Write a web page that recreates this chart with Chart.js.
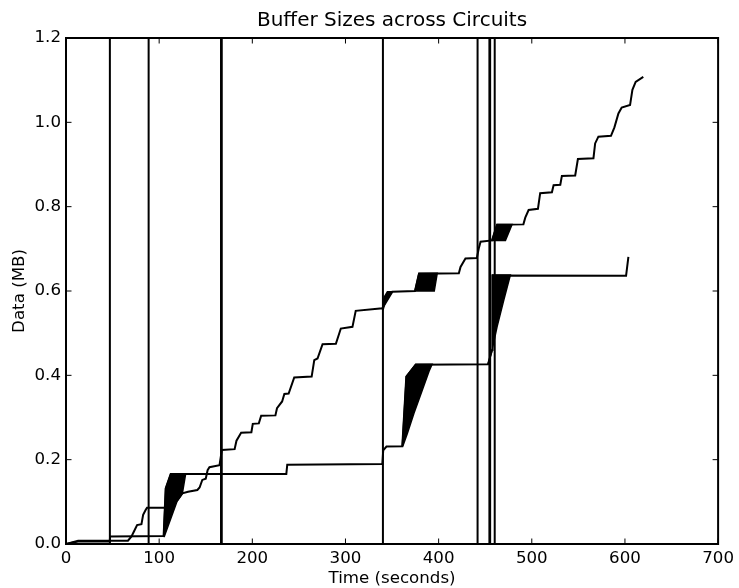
<!DOCTYPE html>
<html>
<head>
<meta charset="utf-8">
<title>Buffer Sizes across Circuits</title>
<script src="https://cdn.jsdelivr.net/npm/chart.js@4.4.1/dist/chart.umd.min.js"></script>
<style>
  html, body { margin: 0; padding: 0; background: #fff; }
  canvas { display: block; }
</style>
</head>
<body>
<canvas id="bufferChart" width="739" height="588"></canvas>
<script>
// Upper circuit (time in seconds, data in MB)
const circuitATime = [0, 13, 66.5, 70.3, 72.8, 76.3, 81, 82.8, 85.6, 87, 106.2, 110, 119.5, 124.9, 131, 141, 143.4,
    146.3, 150, 152, 154, 164.8, 167.3, 181, 183, 188, 199, 200.5, 207, 209.5, 224.8, 226.5, 232, 234.4, 239, 245,
    263.7, 266.5, 270, 275.4, 289.7, 295, 307.5, 311, 339.6, 350.3, 374.6, 378.9, 421.7, 423.5, 428.8, 441, 443,
    445, 457.3, 462.7, 491, 493, 496.6, 506.6, 509, 521.6, 523.4, 530.6, 532.3, 546.6, 549.5, 566.2, 568, 571.5,
    585, 588.7, 593, 596.5, 605.5, 608, 611.5, 619.7];
const circuitAData = [0, 0.008, 0.008, 0.018, 0.029, 0.045, 0.047, 0.069, 0.081, 0.086, 0.086, 0.09, 0.103, 0.12, 0.124, 0.128, 0.134,
    0.152, 0.155, 0.175, 0.182, 0.187, 0.223, 0.225, 0.245, 0.264, 0.265, 0.285, 0.286, 0.304, 0.305, 0.322, 0.338, 0.356, 0.357, 0.395,
    0.397, 0.436, 0.44, 0.474, 0.475, 0.511, 0.515, 0.553, 0.559, 0.598, 0.6, 0.641, 0.642, 0.657, 0.677, 0.678, 0.7,
    0.717, 0.72, 0.757, 0.758, 0.774, 0.792, 0.795, 0.832, 0.834, 0.851, 0.852, 0.873, 0.874, 0.913, 0.915, 0.95, 0.966,
    0.968, 0.988, 1.021, 1.035, 1.041, 1.077, 1.096, 1.108];

// Lower circuit
const circuitBTime = [0, 13, 47, 47.3, 104.8, 107, 112.4, 236.5, 237.5, 339.6, 340.5, 344, 361, 365.3, 375.4, 453,
    457.4, 457.8, 601.2, 603.7];
const circuitBData = [0, 0.006, 0.006, 0.018, 0.019, 0.132, 0.166, 0.166, 0.188, 0.19, 0.222, 0.231, 0.232, 0.397, 0.425, 0.426,
    0.46, 0.637, 0.636, 0.681];

// Dense oscillation areas, outline as [time, MB]
const burstB1 = [[104.8, 0.018], [107, 0.132], [112.4, 0.166], [128.4, 0.166], [124.9, 0.12], [119.5, 0.103], [105.5, 0.018]];
const burstA2 = [[339.6, 0.556], [341.5, 0.585], [345, 0.598], [350.3, 0.598], [343, 0.578], [340.5, 0.556]];
const burstB2 = [[361, 0.232], [365.3, 0.397], [375.4, 0.426], [393, 0.426], [389.6, 0.409], [382.5, 0.365], [373.5, 0.31],
    [366.4, 0.262], [361.5, 0.232]];
const burstA3 = [[374.6, 0.6], [378.9, 0.642], [398.5, 0.642], [395.3, 0.6]];
const burstB3 = [[453, 0.426], [457.4, 0.46], [457.8, 0.638], [477, 0.638], [470, 0.579], [462.7, 0.515], [457.4, 0.46]];
const burstA4 = [[457.3, 0.72], [462.7, 0.758], [478.8, 0.758], [471.7, 0.72]];

// Full-height spikes
const spikeTimes = [47.1, 88.7, 166.4, 167.2, 340.2, 441.8, 454.5, 455.3, 460.2];

const toPoints = (xs, ys) => xs.map((x, i) => ({x: x, y: ys[i]}));

function lineSet(points) {
    return {
        data: points,
        borderColor: '#000',
        borderWidth: 2,
        pointRadius: 0,
        tension: 0,
        fill: false
    };
}

function burstSet(outline) {
    const pts = outline.map(p => ({x: p[0], y: p[1]}));
    pts.push({x: outline[0][0], y: outline[0][1]});
    return {
        data: pts,
        borderColor: '#000',
        backgroundColor: '#000',
        borderWidth: 1.5,
        pointRadius: 0,
        tension: 0,
        fill: 'shape'
    };
}

const spikePoints = spikeTimes.flatMap(t => [{x: t, y: 0}, {x: t, y: 1.3}, {x: t, y: null}]);

// Inward ticks on all four sides plus the box around the plot
const framePlugin = {
    id: 'frame',
    afterDatasetsDraw(chart) {
        const {ctx, chartArea: a, scales: {x, y}} = chart;
        const len = 5.5;
        ctx.save();
        ctx.strokeStyle = '#000';
        ctx.lineWidth = 1;
        ctx.beginPath();
        x.ticks.forEach(t => {
            const px = x.getPixelForValue(t.value);
            ctx.moveTo(px, a.bottom); ctx.lineTo(px, a.bottom - len);
            ctx.moveTo(px, a.top); ctx.lineTo(px, a.top + len);
        });
        y.ticks.forEach(t => {
            const py = y.getPixelForValue(t.value);
            ctx.moveTo(a.left, py); ctx.lineTo(a.left + len, py);
            ctx.moveTo(a.right, py); ctx.lineTo(a.right - len, py);
        });
        ctx.stroke();
        ctx.lineWidth = 2;
        ctx.strokeRect(a.left, a.top, a.right - a.left, a.bottom - a.top);
        ctx.restore();
    }
};

Chart.defaults.font.family = "'DejaVu Sans', sans-serif";
Chart.defaults.color = '#000';

new Chart(document.getElementById('bufferChart').getContext('2d'), {
    type: 'line',
    data: {
        datasets: [
            lineSet(spikePoints),
            lineSet(toPoints(circuitATime, circuitAData)),
            lineSet(toPoints(circuitBTime, circuitBData)),
            burstSet(burstB1),
            burstSet(burstA2),
            burstSet(burstB2),
            burstSet(burstA3),
            burstSet(burstB3),
            burstSet(burstA4)
        ]
    },
    options: {
        responsive: false,
        animation: false,
        devicePixelRatio: 1,
        layout: {
            padding: {top: 0, right: 19, bottom: 0, left: 0}
        },
        plugins: {
            legend: {display: false},
            tooltip: {enabled: false},
            title: {
                display: true,
                text: 'Buffer Sizes across Circuits',
                fullSize: false,
                color: '#000',
                font: {size: 20, weight: 'normal', lineHeight: 1.2},
                padding: {top: 9, bottom: 5}
            }
        },
        scales: {
            x: {
                type: 'linear',
                min: 0,
                max: 700,
                grid: {display: false, drawTicks: false},
                border: {display: false},
                ticks: {
                    stepSize: 100,
                    padding: 5,
                    maxRotation: 0,
                    font: {size: 16.67}
                },
                title: {
                    display: true,
                    text: 'Time (seconds)',
                    font: {size: 16.67, lineHeight: 1},
                    padding: {top: 0, bottom: 1}
                },
                afterFit: s => { s.height = 44; }
            },
            y: {
                min: 0,
                max: 1.2,
                grid: {display: false, drawTicks: false},
                border: {display: false},
                ticks: {
                    stepSize: 0.2,
                    padding: 5,
                    font: {size: 16.67},
                    callback: v => v.toFixed(1)
                },
                title: {
                    display: true,
                    text: 'Data (MB)',
                    font: {size: 16.67, lineHeight: 1},
                    padding: {top: 11, bottom: 0}
                },
                afterFit: s => { s.width = 66; }
            }
        }
    },
    plugins: [framePlugin]
});
</script>
</body>
</html>
